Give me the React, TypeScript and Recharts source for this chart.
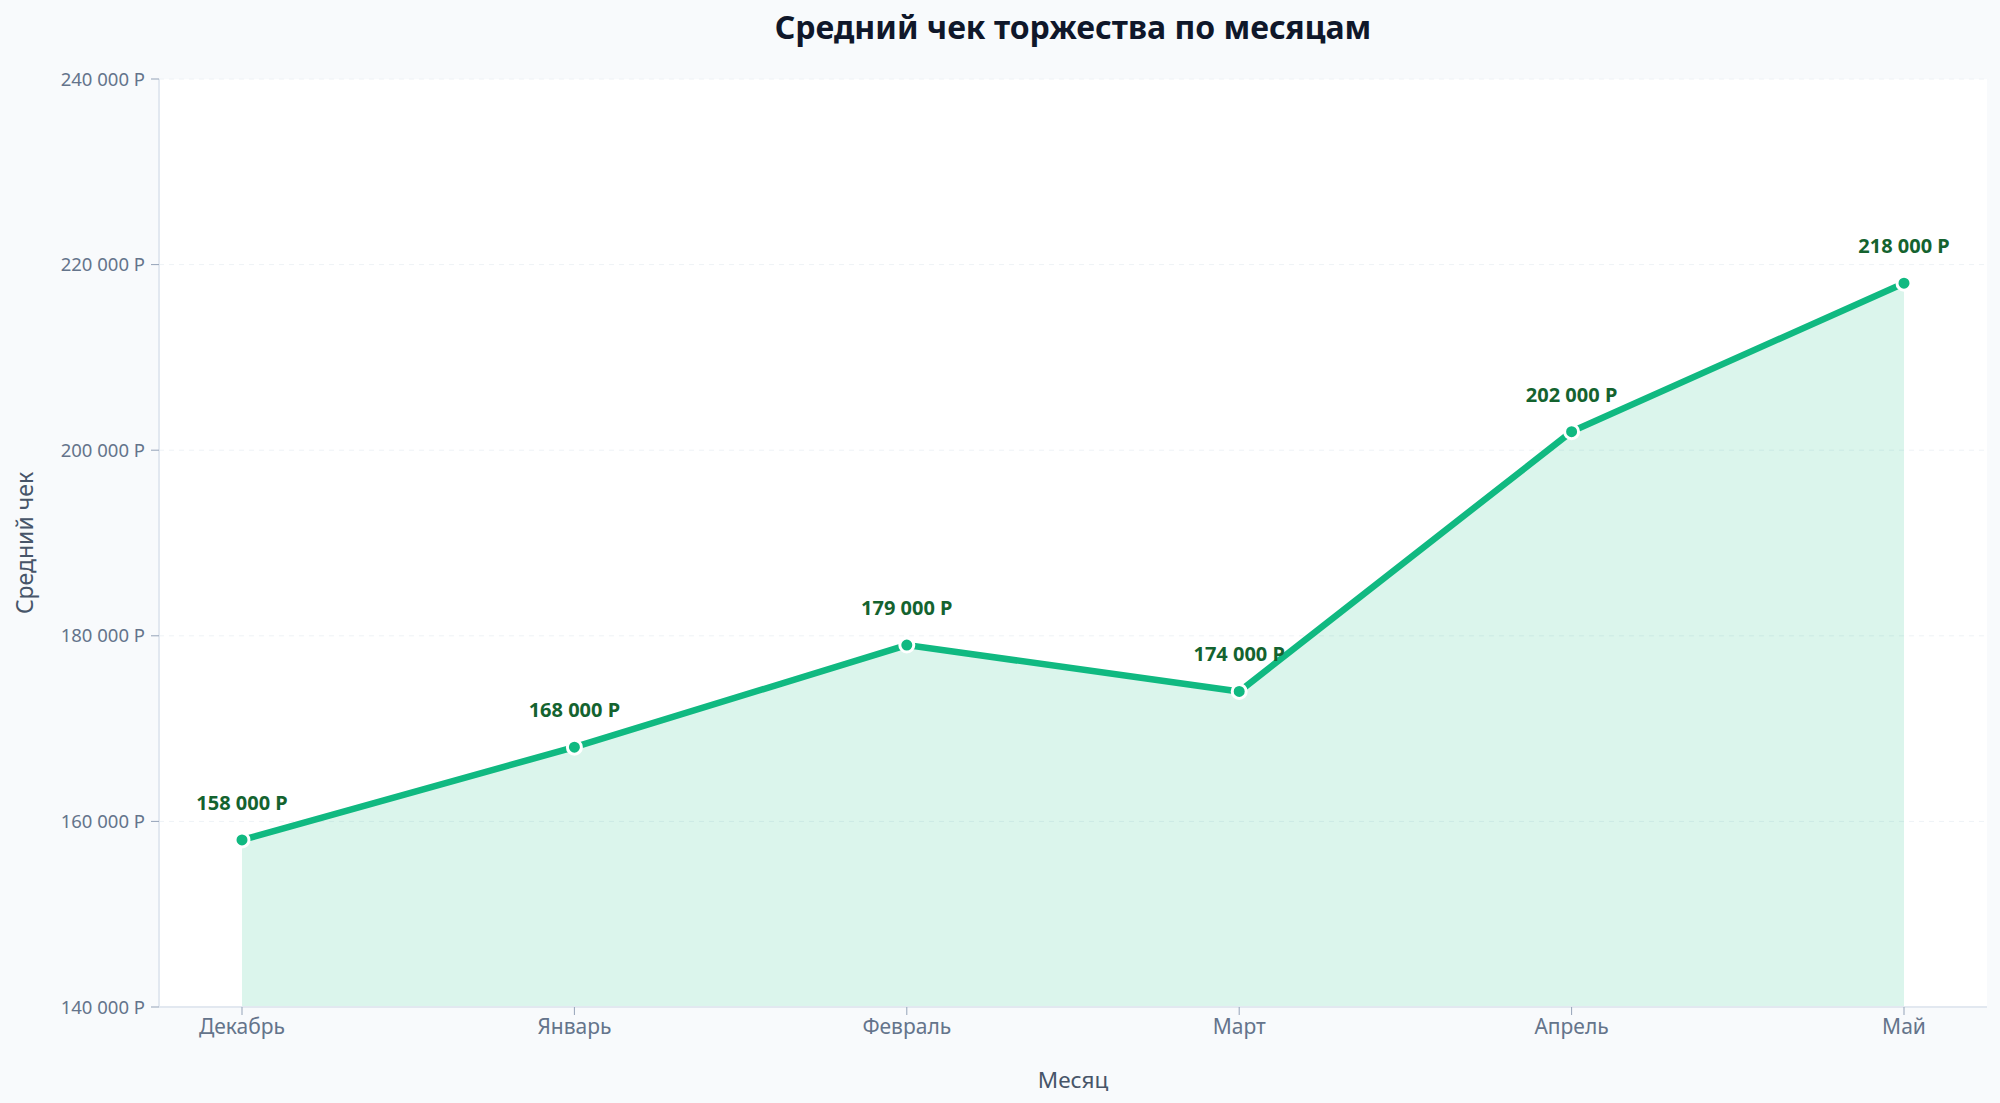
import { ComposedChart, Area, Line, XAxis, YAxis, CartesianGrid, LabelList, Label } from "recharts";

const months = ["Декабрь", "Январь", "Февраль", "Март", "Апрель", "Май"];
const avgCheck = [158000, 168000, 179000, 174000, 202000, 218000];
const yTicks = [140000, 160000, 180000, 200000, 220000, 240000];

const data = months.map((m, i) => ({ month: m, value: avgCheck[i] }));

const FONT = "'Noto Sans', 'Open Sans', sans-serif";

const rub = (v: number) => `${String(v).replace(/\B(?=(\d{3})+(?!\d))/g, " ")} Р`;

const PointLabel = (props: any) => {
  const { x, y, value } = props;
  return (
    <text x={x} y={y - 30} textAnchor="middle" fill="#14632f" fontSize={20} fontWeight={700} fontFamily={FONT}>
      {rub(value)}
    </text>
  );
};

const YTitle = (props: any) => {
  const vb = props.viewBox || {};
  const cx = 24;
  const cy = vb.y + vb.height / 2;
  return (
    <text x={cx} y={cy} transform={`rotate(-90, ${cx}, ${cy})`} textAnchor="middle" dominantBaseline="central" fill="#475569" fontSize={23} fontFamily={FONT}>
      Средний чек
    </text>
  );
};

export default function App() {
  return (
    <div style={{ position: "fixed", left: 0, top: 0, width: 2000, height: 1103, background: "#f8fafc", fontFamily: FONT }}>
      <div style={{ position: "absolute", top: 6, left: 159, width: 1828, textAlign: "center", fontSize: 32, fontWeight: 700, color: "#0f172a", lineHeight: "42px" }}>
        Средний чек торжества по месяцам
      </div>
      <ComposedChart width={2000} height={1103} data={data} margin={{ top: 79, right: 13, bottom: 0, left: 0 }}>
        <CartesianGrid vertical={false} stroke="#eef2f6" strokeDasharray="5 5" fill="#ffffff" />
        <XAxis
          dataKey="month"
          height={96}
          padding={{ left: 83, right: 83 }}
          tick={{ fill: "#64748b", fontSize: 21, fontFamily: FONT }}
          tickLine={{ stroke: "#94a3b8" }}
          axisLine={{ stroke: "#e2e8f0", strokeWidth: 2 }}
          tickSize={8}
          tickMargin={4}
        >
          <Label value="Месяц" position="insideBottom" offset={15} fill="#475569" fontSize={22.5} fontFamily={FONT} />
        </XAxis>
        <YAxis
          width={159}
          domain={[140000, 240000]}
          ticks={yTicks}
          tickFormatter={rub}
          tick={{ fill: "#64748b", fontSize: 18.5, fontFamily: FONT }}
          tickLine={{ stroke: "#94a3b8" }}
          axisLine={{ stroke: "#e2e8f0", strokeWidth: 2 }}
          tickSize={8}
          tickMargin={6}
        >
          <Label content={<YTitle />} />
        </YAxis>
        <Area
          type="linear"
          dataKey="value"
          stroke="#10b981"
          strokeOpacity={0.12}
          strokeWidth={2}
          fill="#10b981"
          fillOpacity={0.15}
          baseValue="dataMin"
          dot={false}
          activeDot={false}
          isAnimationActive={false}
        />
        <Line
          type="linear"
          dataKey="value"
          stroke="#10b981"
          strokeWidth={6.5}
          dot={{ r: 7, fill: "#10b981", stroke: "#ffffff", strokeWidth: 3 }}
          activeDot={false}
          isAnimationActive={false}
        >
          <LabelList dataKey="value" content={<PointLabel />} />
        </Line>
      </ComposedChart>
    </div>
  );
}
